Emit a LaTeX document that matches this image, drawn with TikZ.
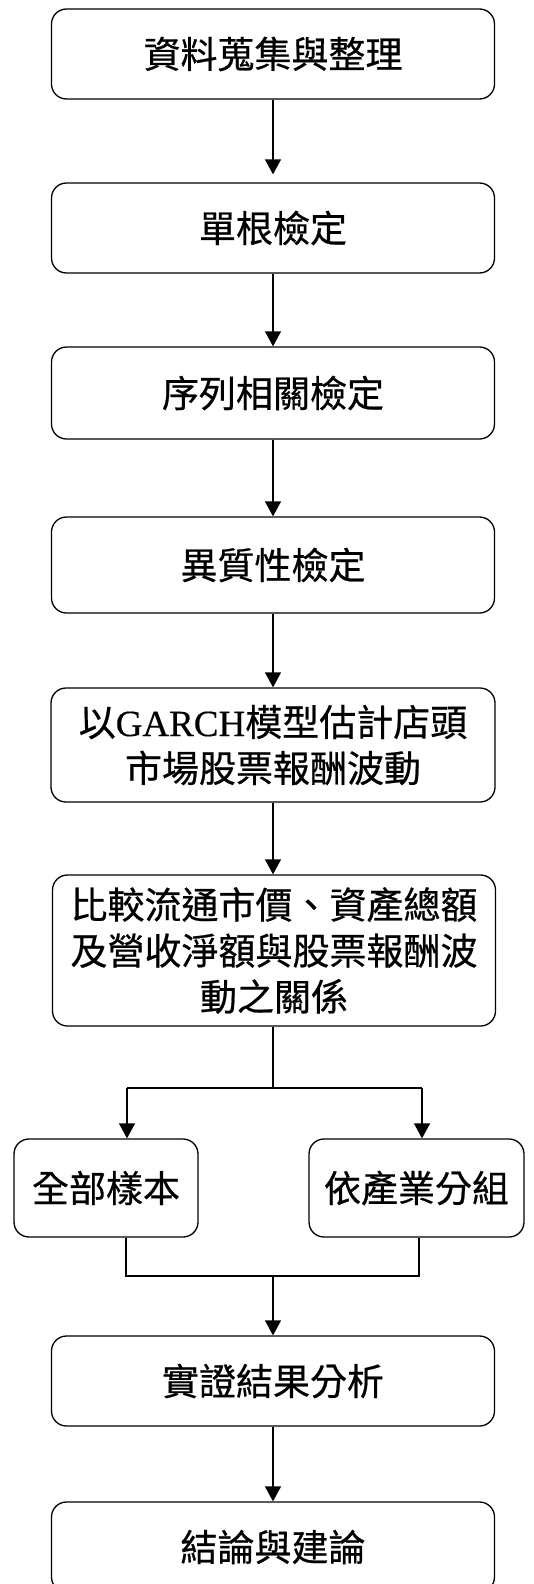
\documentclass[tikz,border=0pt]{standalone}
\usepackage{fontspec}
\setmainfont{Noto Sans CJK TC}[FakeBold=0.6]
\newfontfamily\latserif{Liberation Serif}[FakeBold=0.4]
\usetikzlibrary{arrows.meta,calc}
\tikzset{
  stepbox/.style={draw, line width=1.3pt, rounded corners=15pt, inner sep=0pt, align=center,
    font=\fontsize{37}{46}\selectfont},
  flow/.style={line width=1.3pt, -{Triangle[width=16pt,length=15pt]}},
  link/.style={line width=1.3pt}
}
\begin{document}
\begin{tikzpicture}[x=1pt,y=-1pt]
\useasboundingbox (0,0) rectangle (534,1584);
\path[clip] (0,0) rectangle (534,1584);
\node[stepbox, minimum width=443pt, minimum height=90pt] (b1) at (273,54) {資料蒐集與整理};
\node[stepbox, minimum width=443pt, minimum height=90pt] (b2) at (273,228) {單根檢定};
\node[stepbox, minimum width=443pt, minimum height=92pt] (b3) at (273,393) {序列相關檢定};
\node[stepbox, minimum width=443pt, minimum height=96pt] (b4) at (273,565) {異質性檢定};
\node[stepbox, minimum width=444pt, minimum height=114pt] (b5) at (273,745) {以{\latserif GARCH}模型估計店頭\\市場股票報酬波動};
\node[stepbox, minimum width=443pt, minimum height=151pt] (b6) at (274,950.5) {比較流通市價、資產總額\\及營收淨額與股票報酬波\\動之關係};
\node[stepbox, minimum width=184pt, minimum height=98pt] (l) at (106,1188) {全部樣本};
\node[stepbox, minimum width=215pt, minimum height=98pt] (r) at (416.5,1188) {依產業分組};
\node[stepbox, minimum width=443pt, minimum height=90pt] (b7) at (273,1381) {實證結果分析};
\node[stepbox, minimum width=443pt, minimum height=90pt] (b8) at (273,1547) {結論與建論};

\coordinate (sp) at (273,1088);
\coordinate (spl) at (127,1088);
\coordinate (spr) at (422,1088);
\coordinate (jn) at (273,1276);
\coordinate (jnl) at (126,1276);
\coordinate (jnr) at (419,1276);

\draw[flow, shorten >=8pt] (b1) -- (b2);
\draw[flow] (b2) -- (b3);
\draw[flow] (b3) -- (b4);
\draw[flow] (b4) -- (b5);
\draw[flow] (b5.south) -- (b5.south |- b6.north);
\draw[link] (b6.south -| sp) -- (sp);
\draw[link] (spl) -- (spr);
\draw[flow] (spl) -- (spl |- l.north);
\draw[flow] (spr) -- (spr |- r.north);
\draw[link] (l.south -| jnl) -- (jnl) -- (jnr) -- (jnr |- r.south);
\draw[flow] (jn) -- (b7);
\draw[flow] (b7) -- (b8);
\end{tikzpicture}
\end{document}
